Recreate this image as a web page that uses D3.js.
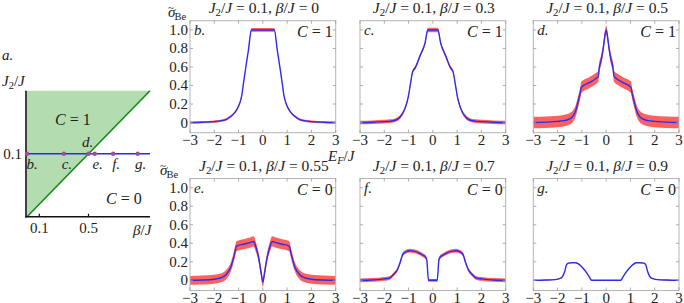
<!DOCTYPE html>
<html>
<head>
<meta charset="utf-8">
<script src="https://cdn.jsdelivr.net/npm/d3@7"></script>
<style>
  body { margin: 0; background: #fff; }
  text { font-family: "Liberation Serif", "DejaVu Serif", serif; fill: #222; }
</style>
</head>
<body>
<svg width="684" height="303"></svg>
<script>
// ---- data ----
// phase diagram (panel a)
const phaseBoundary = [[0, 0], [1.0, 0.2]];     // beta/J, J2/J
const phaseBetas = [0, 0.3, 0.5, 0.55, 0.7, 0.9];
const phaseLetters = ["b.", "c.", "d.", "e.", "f.", "g."];
const phaseJ2 = 0.1;
const phaseXTicks = [0.1, 0.5];

// conductance panels: E_F/J, sigma, error half-width
const eB = [-3,-2.5,-2,-1.75,-1.5,-1.3,-1.15,-1.05,-0.95,-0.87,-0.8,-0.7,-0.6,-0.47,0,0.47,0.6,0.7,0.8,0.87,0.95,1.05,1.15,1.3,1.5,1.75,2,2.5,3];
const sB = [0,0.003,0.01,0.018,0.035,0.07,0.11,0.15,0.21,0.29,0.42,0.6,0.77,1.0,1.0,1.0,0.77,0.6,0.42,0.29,0.21,0.15,0.11,0.07,0.035,0.018,0.01,0.003,0];
const dB = [0.012,0.012,0.012,0.012,0.012,0.012,0.012,0.012,0.012,0.012,0.012,0.012,0.012,0.02,0.02,0.02,0.012,0.012,0.012,0.012,0.012,0.012,0.012,0.012,0.012,0.012,0.012,0.012,0.012];

const eC = [-3,-2.5,-2,-1.75,-1.5,-1.35,-1.15,-1.01,-0.94,-0.83,-0.73,-0.53,-0.32,-0.21,0,0.21,0.32,0.53,0.73,0.83,0.94,1.01,1.15,1.35,1.5,1.75,2,2.5,3];
const sC = [0,0.003,0.01,0.015,0.03,0.06,0.15,0.28,0.39,0.55,0.59,0.72,0.86,1.0,1.0,1.0,0.86,0.72,0.59,0.55,0.39,0.28,0.15,0.06,0.03,0.015,0.01,0.003,0];
const dC = [0.02,0.02,0.02,0.02,0.02,0.02,0.02,0.02,0.02,0.02,0.02,0.02,0.02,0.025,0.025,0.025,0.02,0.02,0.02,0.02,0.02,0.02,0.02,0.02,0.02,0.02,0.02,0.02,0.02];

const eD = [-3,-2.5,-2,-1.75,-1.5,-1.35,-1.25,-1.15,-1.08,-1.02,-0.7,-0.45,-0.32,-0.29,-0.2,-0.12,-0.05,0,0.05,0.12,0.2,0.29,0.32,0.45,0.7,1.02,1.08,1.15,1.25,1.35,1.5,1.75,2,2.5,3];
const sD = [0,0.004,0.012,0.02,0.04,0.075,0.13,0.23,0.3,0.38,0.43,0.47,0.5,0.58,0.68,0.8,0.94,1.0,0.94,0.8,0.68,0.58,0.5,0.47,0.43,0.38,0.3,0.23,0.13,0.075,0.04,0.02,0.012,0.004,0];
const dD = [0.062,0.062,0.062,0.062,0.062,0.062,0.062,0.062,0.062,0.062,0.06,0.06,0.06,0.055,0.055,0.055,0.05,0.05,0.05,0.055,0.055,0.055,0.06,0.06,0.06,0.062,0.062,0.062,0.062,0.062,0.062,0.062,0.062,0.062,0.062];

const eE = [-3,-2.5,-2,-1.75,-1.52,-1.31,-1.18,-1.08,-0.8,-0.5,-0.38,-0.3,-0.22,-0.15,-0.07,0,0.07,0.15,0.22,0.3,0.38,0.5,0.8,1.08,1.18,1.31,1.52,1.75,2,2.5,3];
const sE = [0,0.003,0.012,0.025,0.06,0.15,0.27,0.37,0.39,0.41,0.42,0.37,0.3,0.21,0.08,-0.02,0.08,0.21,0.3,0.37,0.42,0.41,0.39,0.37,0.27,0.15,0.06,0.025,0.012,0.003,0];
const dE = [0.048,0.048,0.048,0.048,0.05,0.05,0.055,0.055,0.055,0.055,0.055,0.055,0.05,0.05,0.05,0.05,0.05,0.05,0.05,0.055,0.055,0.055,0.055,0.055,0.055,0.05,0.05,0.048,0.048,0.048,0.048];

const eF = [-3,-2.5,-2,-1.75,-1.63,-1.45,-1.35,-1.24,-1.1,-0.95,-0.8,-0.6,-0.4,-0.3,-0.25,-0.18,0,0.18,0.25,0.3,0.4,0.6,0.8,0.95,1.1,1.24,1.35,1.45,1.63,1.75,2,2.5,3];
const sF = [0,0.004,0.015,0.03,0.06,0.12,0.19,0.28,0.31,0.32,0.315,0.3,0.27,0.25,0.22,0,0,0,0.22,0.25,0.27,0.3,0.315,0.32,0.31,0.28,0.19,0.12,0.06,0.03,0.015,0.004,0];
const dF = [0.02,0.02,0.02,0.02,0.02,0.02,0.02,0.02,0.02,0.02,0.02,0.02,0.02,0.02,0.02,0.015,0.015,0.015,0.02,0.02,0.02,0.02,0.02,0.02,0.02,0.02,0.02,0.02,0.02,0.02,0.02,0.02,0.02];

const eG = [-3,-2.5,-2.1,-1.9,-1.8,-1.7,-1.63,-1.55,-1.4,-1.25,-1.1,-0.95,-0.8,-0.7,-0.6,0,0.6,0.7,0.8,0.95,1.1,1.25,1.4,1.55,1.63,1.7,1.8,1.9,2.1,2.5,3];
const sG = [0,0.003,0.008,0.02,0.04,0.1,0.17,0.185,0.19,0.19,0.17,0.13,0.08,0.04,0,0,0,0.04,0.08,0.13,0.17,0.19,0.19,0.185,0.17,0.1,0.04,0.02,0.008,0.003,0];
const dG = [0.004,0.004,0.004,0.004,0.004,0.004,0.004,0.004,0.004,0.004,0.004,0.004,0.004,0.004,0.004,0.004,0.004,0.004,0.004,0.004,0.004,0.004,0.004,0.004,0.004,0.004,0.004,0.004,0.004,0.004,0.004];

const betas = ["0", "0.3", "0.5", "0.55", "0.7", "0.9"];
const letters = ["b.", "c.", "d.", "e.", "f.", "g."];
const cherns = ["1", "1", "1", "0", "0", "0"];
const xTicks = [-3, -2, -1, 0, 1, 2, 3];
const yTicks = [0, 0.2, 0.4, 0.6, 0.8, 1.0];

let svg = d3.select("svg");

// write a bit of math: parts are [text, "i" italic | "s" italic subscript | "r" upright subscript | ""]
function mathText(sel, parts, size) {
  parts.forEach(function(p) {
    let t = sel.append("tspan").text(p[0]);
    if (p[1] == "i") t.attr("font-style", "italic");
    if (p[1] == "s" || p[1] == "r") {
      t.attr("font-size", size * 0.7).attr("baseline-shift", "-25%");
      if (p[1] == "s") t.attr("font-style", "italic");
    }
  });
  return sel;
}

// ---- panel a: phase diagram ----
let px = d3.scaleLinear().domain([0, 1]).range([27, 150]),
  py = d3.scaleLinear().domain([0, 0.2]).range([216.7, 90.7]);

let a = svg.append("g");
a.append("path")
  .datum([[0, 0.2], [1.0, 0.2], phaseBoundary[1], phaseBoundary[0]])
  .attr("d", d3.line().x(function(d) { return px(d[0]); }).y(function(d) { return py(d[1]); }))
  .attr("fill", "#b4dcb1");
a.append("path")
  .datum(phaseBoundary)
  .attr("d", d3.line().x(function(d) { return px(d[0]); }).y(function(d) { return py(d[1]); }))
  .attr("stroke", "#138a13").attr("stroke-width", 1.6).attr("fill", "none");
a.append("line")
  .attr("x1", px(0) - 1).attr("x2", px(1)).attr("y1", py(phaseJ2)).attr("y2", py(phaseJ2))
  .attr("stroke", "#2b2bdd").attr("stroke-width", 1.6);
a.append("line")
  .attr("x1", px(0) - 1).attr("x2", px(0) - 1).attr("y1", py(0.2)).attr("y2", py(0) + 0.8)
  .attr("stroke", "#111").attr("stroke-width", 1.6);
a.append("line")
  .attr("x1", px(0) - 1.8).attr("x2", px(1)).attr("y1", py(0)).attr("y2", py(0))
  .attr("stroke", "#111").attr("stroke-width", 1.6);
a.selectAll(".xt").data(phaseXTicks).enter().append("line")
  .attr("x1", function(d) { return px(d); }).attr("x2", function(d) { return px(d); })
  .attr("y1", py(0)).attr("y2", py(0) - 3)
  .attr("stroke", "#111").attr("stroke-width", 1.2);
a.selectAll(".xl").data(phaseXTicks).enter().append("text")
  .attr("x", function(d) { return px(d); }).attr("y", py(0) + 16)
  .attr("text-anchor", "middle").attr("font-size", 15)
  .text(function(d) { return d; });
a.selectAll("circle").data(phaseBetas).enter().append("circle")
  .attr("cx", function(d) { return px(d); }).attr("cy", py(phaseJ2)).attr("r", 2.2)
  .attr("fill", "#9b4f9e");
a.selectAll(".pl").data(phaseBetas).enter().append("text")
  .attr("x", function(d, i) { return px(d) + (i == 2 ? -1 : i == 0 ? 5 : 3); })
  .attr("y", function(d, i) { return i == 2 ? py(phaseJ2) - 7 : py(phaseJ2) + 15; })
  .attr("text-anchor", "middle").attr("font-size", 15).attr("font-style", "italic")
  .text(function(d, i) { return phaseLetters[i]; });
a.append("text").attr("x", 22).attr("y", py(phaseJ2) + 5).attr("text-anchor", "end")
  .attr("font-size", 15).text("0.1");
mathText(a.append("text").attr("x", 2).attr("y", 86).attr("font-size", 15),
  [["J", "i"], ["2", "r"], ["/", ""], ["J", "i"]], 15);
mathText(a.append("text").attr("x", 133).attr("y", 235).attr("font-size", 15),
  [["β", "i"], ["/", ""], ["J", "i"]], 15);
mathText(a.append("text").attr("x", 55).attr("y", 125).attr("font-size", 16),
  [["C", "i"], [" = 1", ""]], 16);
mathText(a.append("text").attr("x", 106).attr("y", 204).attr("font-size", 16),
  [["C", "i"], [" = 0", ""]], 16);
a.append("text").attr("x", 2).attr("y", 60).attr("font-size", 15).attr("font-style", "italic").text("a.");

// ---- panels b-g ----
const panels = [
  {E: eB, s: sB, d: dB}, {E: eC, s: sC, d: dC}, {E: eD, s: sD, d: dD},
  {E: eE, s: sE, d: dE}, {E: eF, s: sF, d: dF}, {E: eG, s: sG, d: dG}
];
const colX = [190, 360, 533.3], rowY = [20.7, 178.5];
const w = 145.7, h = 112;

let x = d3.scaleLinear().domain([-3, 3]).range([0, w]),
  y = d3.scaleLinear().domain([-0.11, 1.1]).range([h, 0]);

panels.forEach(function(p, i) {
  let col = i % 3, row = Math.floor(i / 3);
  let g = svg.append("g")
    .attr("transform", "translate(" + colX[col] + "," + rowY[row] + ")");

  g.append("clipPath").attr("id", "clip" + i)
    .append("rect").attr("width", w).attr("height", h);

  let pts = p.E.map(function(e, k) { return {e: e, s: p.s[k], d: p.d[k]}; });

  let plot = g.append("g").attr("clip-path", "url(#clip" + i + ")");
  plot.append("path").datum(pts)
    .attr("d", d3.area().curve(d3.curveMonotoneX)
      .x(function(d) { return x(d.e); })
      .y0(function(d) { return y(d.s - d.d); })
      .y1(function(d) { return y(d.s + d.d); }))
    .attr("fill", "#ff4f4f").attr("opacity", 0.9);
  plot.append("path").datum(pts)
    .attr("d", d3.line().curve(d3.curveMonotoneX)
      .x(function(d) { return x(d.e); })
      .y(function(d) { return y(d.s); }))
    .attr("fill", "none").attr("stroke", "#2d2df0").attr("stroke-width", 1.4);

  // frame with inward ticks on all sides
  g.append("rect").attr("width", w).attr("height", h)
    .attr("fill", "none").attr("stroke", "#b5b5b5").attr("stroke-width", 1);
  g.selectAll(".tb").data(xTicks).enter().append("path")
    .attr("d", function(d) { return "M" + x(d) + "," + h + "v-3M" + x(d) + ",0v3"; })
    .attr("stroke", "#999").attr("stroke-width", 0.8);
  g.selectAll(".tl").data(yTicks).enter().append("path")
    .attr("d", function(d) { return "M0," + y(d) + "h3M" + w + "," + y(d) + "h-3"; })
    .attr("stroke", "#999").attr("stroke-width", 0.8);

  g.selectAll(".xl").data(xTicks).enter().append("text")
    .attr("x", function(d) { return x(d); }).attr("y", h + 12)
    .attr("text-anchor", "middle").attr("font-size", 15)
    .text(function(d) { return d < 0 ? "\u2212" + (-d) : d; });

  if (col == 0) {
    g.selectAll(".yl").data(yTicks).enter().append("text")
      .attr("x", -2).attr("y", function(d) { return y(d) + 5; })
      .attr("text-anchor", "end").attr("font-size", 15)
      .text(function(d) { return d == 0 ? "0" : d3.format(".1f")(d); });
    // sigma with tilde and "Be" subscript, in one text element
    let lab = g.append("text").attr("x", row == 0 ? -22 : -30).attr("y", -4).attr("font-size", 15);
    lab.append("tspan").attr("font-style", "italic").text("σ");
    lab.append("tspan").attr("font-size", 11).attr("dx", -7.5).attr("dy", -6).text("~");
    lab.append("tspan").attr("font-size", 10.5).attr("dx", 0.5).attr("dy", 9).text("Be");
  }

  mathText(g.append("text").attr("x", w / 2 + 1).attr("y", -8).attr("text-anchor", "middle").attr("font-size", 15.5),
    [["J", "i"], ["2", "r"], ["/", ""], ["J", "i"], [" = 0.1, ", ""], ["β", "i"], ["/", ""], ["J", "i"], [" = " + betas[i], ""]], 15.5);

  g.append("text").attr("x", 4).attr("y", 14).attr("font-size", 15).attr("font-style", "italic").text(letters[i]);
  mathText(g.append("text").attr("x", w - 3).attr("y", 16).attr("text-anchor", "end").attr("font-size", 16),
    [["C", "i"], [" = " + cherns[i], ""]], 16);
});

// E_F/J label between the rows
mathText(svg.append("text").attr("x", 328).attr("y", 161).attr("font-size", 15),
  [["E", "i"], ["F", "s"], ["/", ""], ["J", "i"]], 15);
</script>
</body>
</html>
